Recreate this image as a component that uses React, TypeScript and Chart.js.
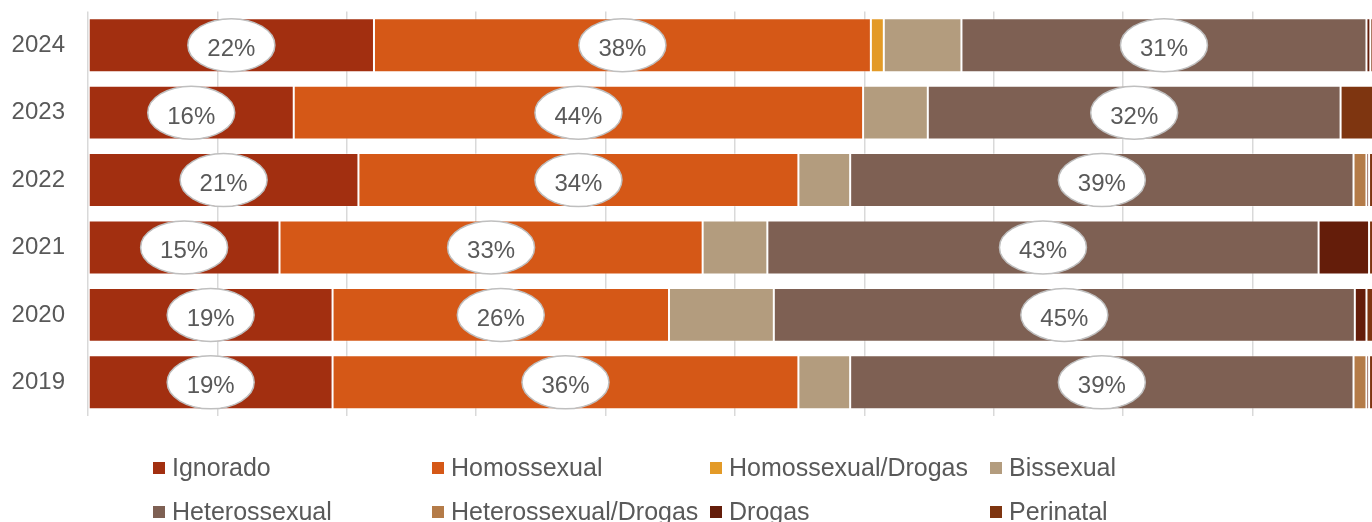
import React, { useEffect, useRef } from "react";
import { Chart, registerables } from "chart.js";

Chart.register(...registerables);

const years = ["2024", "2023", "2022", "2021", "2020", "2019"];

const seriesNames = [
  "Ignorado",
  "Homossexual",
  "Homossexual/Drogas",
  "Bissexual",
  "Heterossexual",
  "Heterossexual/Drogas",
  "Drogas",
  "Perinatal",
];

const ignorado = [22.1, 15.9, 20.9, 14.8, 18.9, 18.9];
const homossexual = [38.4, 44.0, 34.0, 32.7, 26.0, 36.0];
const homossexualDrogas = [1.0, 0, 0, 0, 0, 0];
const bissexual = [6.0, 5.0, 4.0, 5.0, 8.1, 4.0];
const heterossexual = [31.3, 31.9, 38.9, 42.6, 44.9, 38.9];
const heterossexualDrogas = [0, 0, 1.0, 0, 0, 1.0];
const drogas = [0.3, 0, 0.2, 3.9, 0.9, 0.2];
const perinatal = [0.9, 3.2, 1.0, 1.0, 1.2, 1.0];

const seriesValues = [
  ignorado,
  homossexual,
  homossexualDrogas,
  bissexual,
  heterossexual,
  heterossexualDrogas,
  drogas,
  perinatal,
];

const colors = [
  "#A22F10",
  "#D55817",
  "#E39A27",
  "#B39C7E",
  "#7E6053",
  "#B47B48",
  "#641D0A",
  "#7E3510",
];

const labeledSeries = [0, 1, 4];

const FONT = '"Liberation Sans", Arial, sans-serif';
const TEXT_COLOR = "#595959";

const ellipseLabels = {
  id: "ellipseLabels",
  afterDatasetsDraw(chart: any) {
    const ctx = chart.ctx;
    labeledSeries.forEach((di) => {
      const meta = chart.getDatasetMeta(di);
      const ds = chart.data.datasets[di];
      meta.data.forEach((bar: any, i: number) => {
        const v = ds.data[i] as number;
        const p = bar.getProps(["x", "base", "y", "height"], true);
        const cx = (p.x + p.base) / 2;
        const cy = p.y;
        ctx.save();
        ctx.beginPath();
        ctx.ellipse(cx, cy, 43.5, 26.5, 0, 0, Math.PI * 2);
        ctx.fillStyle = "#FFFFFF";
        ctx.fill();
        ctx.lineWidth = 1.5;
        ctx.strokeStyle = "#BFBFBF";
        ctx.stroke();
        ctx.fillStyle = TEXT_COLOR;
        ctx.font = `24px ${FONT}`;
        ctx.textAlign = "center";
        ctx.textBaseline = "alphabetic";
        ctx.fillText(Math.round(v) + "%", cx, cy + 11);
        ctx.restore();
      });
    });
  },
};

const gridLegend = {
  id: "gridLegend",
  afterDraw(chart: any) {
    const ctx = chart.ctx;
    const cols = [145, 424, 702, 982];
    const rows = [460, 504];
    ctx.save();
    chart.data.datasets.forEach((ds: any, i: number) => {
      const x = cols[i % 4];
      const y = rows[Math.floor(i / 4)];
      ctx.fillStyle = ds.backgroundColor;
      ctx.fillRect(x, y - 6, 12, 12);
      ctx.fillStyle = TEXT_COLOR;
      ctx.font = `25px ${FONT}`;
      ctx.textAlign = "left";
      ctx.textBaseline = "alphabetic";
      ctx.fillText(ds.label, x + 19, y + 8);
    });
    ctx.restore();
  },
};

export default function App() {
  const ref = useRef<HTMLCanvasElement | null>(null);

  useEffect(() => {
    if (!ref.current) return;
    const chart = new Chart(ref.current, {
      type: "bar",
      data: {
        labels: years,
        datasets: seriesNames.map((name, i) => ({
          label: name,
          data: seriesValues[i],
          backgroundColor: colors[i],
          borderColor: "rgba(255,255,255,0.3)",
          borderWidth: 1,
          borderSkipped: false,
          barPercentage: 0.8,
          categoryPercentage: 1,
        })),
      },
      options: {
        indexAxis: "y",
        responsive: false,
        animation: false,
        layout: { padding: { top: 3.5, right: 6, bottom: 122, left: 0 } },
        plugins: {
          legend: { display: false },
          tooltip: { enabled: false },
        },
        scales: {
          x: {
            stacked: true,
            min: 0,
            max: 100,
            ticks: { display: false, stepSize: 10 },
            grid: { color: "#D9D9D9", lineWidth: 1.5, drawTicks: false },
            border: { display: false },
          },
          y: {
            stacked: true,
            grid: { display: false, drawTicks: false },
            border: { display: false },
            ticks: {
              color: TEXT_COLOR,
              font: { family: FONT, size: 24 },
              padding: 23,
            },
            afterFit(scale: any) {
              scale.width = 80;
              scale.paddingTop = 0;
              scale.paddingBottom = 0;
            },
          },
        },
      },
      plugins: [ellipseLabels, gridLegend],
    });
    return () => chart.destroy();
  }, []);

  return (
    <div
      style={{
        position: "fixed",
        left: 0,
        top: 0,
        width: 1372,
        height: 522,
        overflow: "hidden",
        background: "#FFFFFF",
      }}
    >
      <style>{"html,body{overflow:hidden}"}</style>
      <canvas
        ref={ref}
        width={1380}
        height={530}
        style={{ display: "block", position: "absolute", left: 8, top: 8 }}
      />
    </div>
  );
}
